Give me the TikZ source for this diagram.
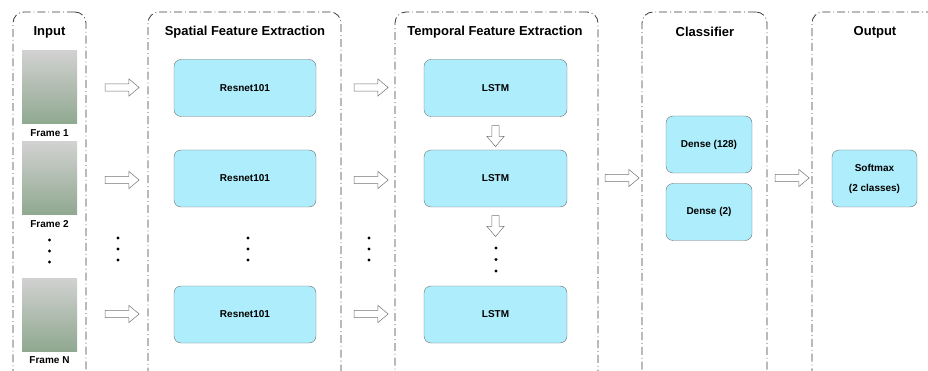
\documentclass[tikz,border=0pt]{standalone}
\usepackage{fontspec}
\setmainfont{Liberation Sans}
\usetikzlibrary{shapes.arrows}

\definecolor{boxcyan}{RGB}{174,238,252}
\definecolor{boxline}{RGB}{110,110,110}
\definecolor{stageline}{RGB}{60,60,60}

\begin{document}
\begin{tikzpicture}[x=1pt, y=-1pt]
        \tikzstyle{stage_box}  = [shape = rectangle, draw = stageline, rounded corners=11pt, line width=0.8pt,
                                  dash pattern=on 8pt off 3pt on 0.8pt off 3pt]
        \tikzstyle{stage_title} = [font = \fontsize{13}{15}\selectfont\bfseries]
        \tikzstyle{layer_box}  = [shape = rectangle, draw = boxline, fill = boxcyan, rounded corners=7pt,
                                  minimum height=57pt, font = \fontsize{10}{12}\selectfont\bfseries, align=center]
        \tikzstyle{frame_img}  = [shape = rectangle, minimum width=55pt, minimum height=73pt,
                                  top color = black!18, bottom color = black!45!green!25!gray!70]
        \tikzstyle{frame_lbl}  = [font = \fontsize{10}{12}\selectfont\bfseries]
        \tikzstyle{hollow}     = [shape = single arrow, draw = black!55, fill = white, line width=0.5pt,
                                  minimum height=34pt, inner sep=3.3pt, single arrow head extend=5pt,
                                  single arrow tip angle=80]
        \tikzstyle{dot}        = [shape = circle, fill = black, inner sep=0pt, minimum size=3.2pt]

        \clip (0, 0) rectangle (928, 371);

        % stages
        \node[stage_box, minimum width=73pt,  minimum height=370pt] at (49.5, 197) (in_box) {};
        \node[stage_box, minimum width=193pt, minimum height=370pt] at (244.5, 197) (sp_box) {};
        \node[stage_box, minimum width=203pt, minimum height=370pt] at (496.5, 197) (tp_box) {};
        \node[stage_box, minimum width=125pt, minimum height=370pt] at (704.5, 197) (cl_box) {};
        \node[stage_box, minimum width=133pt, minimum height=370pt] at (878.5, 197) (out_box) {};

        \node[stage_title] at (49.5, 32)  (in_title)  {Input};
        \node[stage_title] at (245, 32)   (sp_title)  {Spatial Feature Extraction};
        \node[stage_title] at (495, 32)   (tp_title)  {Temporal Feature Extraction};
        \node[stage_title] at (705, 32)   (cl_title)  {Classifier};
        \node[stage_title] at (875, 32)   (out_title) {Output};

        % input frames
        \node[frame_img] at (49.5, 87.5)  (f1) {};
        \node[frame_lbl] at (49.5, 133)   (f1_l) {Frame 1};
        \node[frame_img] at (49.5, 178.5) (f2) {};
        \node[frame_lbl] at (49.5, 224)   (f2_l) {Frame 2};
        \node[frame_img] at (49.5, 314.5) (fN) {};
        \node[frame_lbl] at (49.5, 360)   (fN_l) {Frame N};

        % spatial
        \node[layer_box, minimum width=142pt] at (245, 88)    (res1) {Resnet101};
        \node[layer_box, minimum width=142pt] at (245, 178.5) (res2) {Resnet101};
        \node[layer_box, minimum width=142pt] at (245, 314.5) (resN) {Resnet101};

        % temporal
        \node[layer_box, minimum width=143pt] at (495.5, 88)    (lstm1) {LSTM};
        \node[layer_box, minimum width=143pt] at (495.5, 178.5) (lstm2) {LSTM};
        \node[layer_box, minimum width=143pt] at (495.5, 314.5) (lstmN) {LSTM};

        % classifier
        \node[layer_box, minimum width=86pt] at (709, 144.5) (dense1) {Dense (128)};
        \node[layer_box, minimum width=86pt] at (709, 212)   (dense2) {Dense (2)};

        % output
        \node[layer_box, minimum width=85pt] at (874.5, 178.5) (soft) {Softmax\\[8pt](2 classes)};

        % hollow arrows
        \node[hollow] at (120, 87.5)  (a_in1) {};
        \node[hollow] at (120, 180)   (a_in2) {};
        \node[hollow] at (120, 314)   (a_inN) {};
        \node[hollow] at (369, 87.5)  (a_sp1) {};
        \node[hollow] at (369, 180)   (a_sp2) {};
        \node[hollow] at (369, 314)   (a_spN) {};
        \node[hollow] at (620, 178)   (a_tp) {};
        \node[hollow] at (790, 178)   (a_cl) {};
        \node[hollow, minimum height=21pt, shape border rotate=270] at (495.5, 134) (a_l1) {};
        \node[hollow, minimum height=21pt, shape border rotate=270] at (495.5, 224) (a_l2) {};

        % dots
        \foreach \y [count=\i] in {240, 251, 262} {
          \node[dot] at (49.5, \y) (d_in\i) {};
        }
        \foreach \y [count=\i] in {238, 249, 260} {
          \node[dot] at (118, \y) (d_a\i) {};
          \node[dot] at (248, \y) (d_sp\i) {};
          \node[dot] at (369, \y) (d_b\i) {};
        }
        \foreach \y [count=\i] in {248, 259.5, 271} {
          \node[dot] at (496, \y) (d_tp\i) {};
        }
      \end{tikzpicture}
\end{document}
